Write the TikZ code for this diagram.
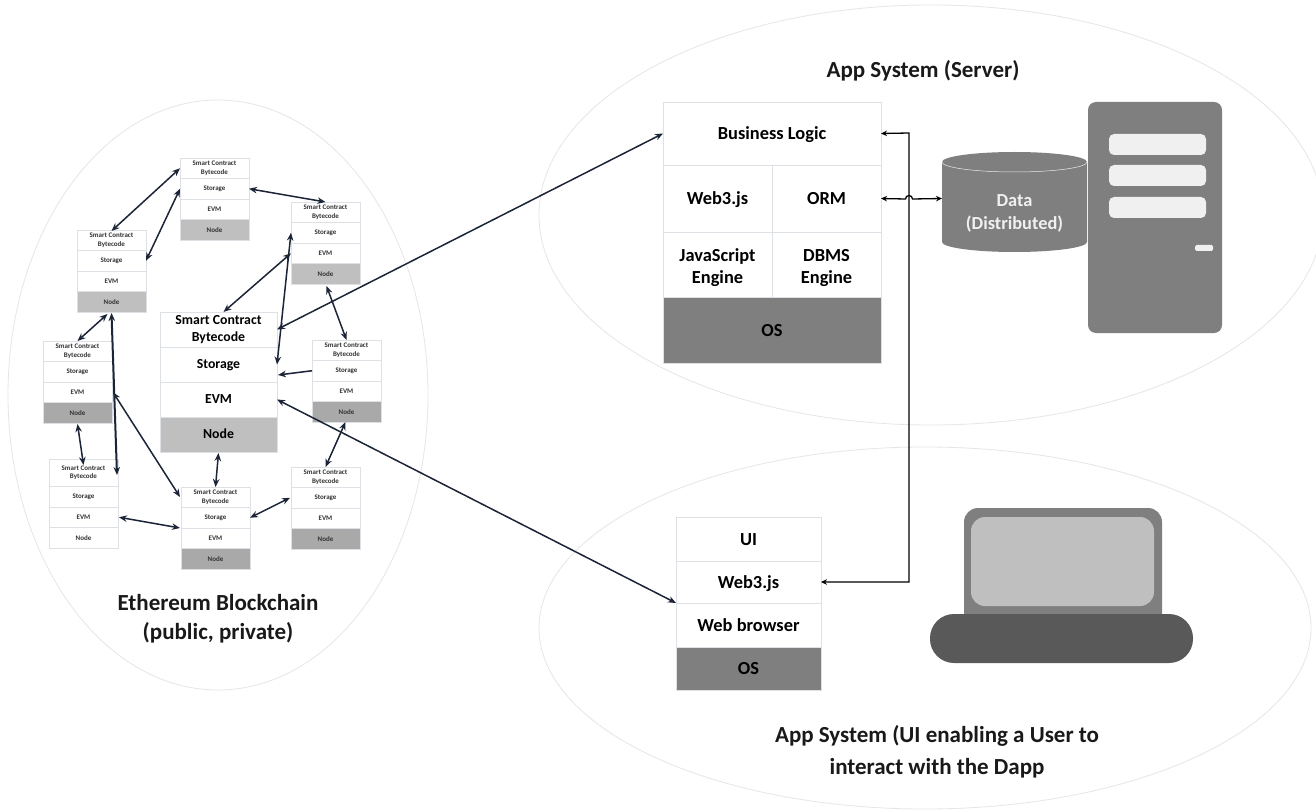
\documentclass[tikz,border=0pt]{standalone}
\usepackage{fontspec}
\setmainfont{Carlito}
\usetikzlibrary{arrows.meta,calc,shapes.geometric}
\definecolor{edgegray}{HTML}{DDE1E6}
\definecolor{ringgray}{HTML}{E6E6E6}
\definecolor{midgray}{HTML}{7F7F7F}
\definecolor{lightnode}{HTML}{BFBFBF}
\definecolor{darknode}{HTML}{A9A9A9}
\definecolor{barcolor}{HTML}{595959}
\definecolor{screengray}{HTML}{BFBFBF}
\definecolor{btngray}{HTML}{F0F0F0}
\definecolor{navy}{HTML}{1C2438}
\tikzset{
  ring/.style={draw=ringgray,line width=.8pt,ellipse,inner sep=0pt,outer sep=0pt},
  cell/.style={draw=edgegray,line width=.7pt,inner sep=0pt,outer sep=0pt,align=center,anchor=north west,text=black},
  tiny/.style={cell,font=\fontsize{7}{8.6}\selectfont\bfseries,text=black!80,minimum width=69pt,minimum height=20.5pt},
  mid/.style={cell,font=\fontsize{13.8}{17}\selectfont\bfseries,minimum width=117pt,minimum height=35pt},
  midline/.style={mid,text height=11pt,text depth=3pt},
  big/.style={cell,font=\fontsize{18.4}{22}\selectfont\bfseries},
  bigline/.style={big,text height=16pt,text depth=4pt},
  title/.style={font=\fontsize{23}{29}\selectfont\bfseries,align=center,text=black!90},
  link/.style={{Stealth[length=8pt,width=6.5pt]}-{Stealth[length=8pt,width=6.5pt]},draw=navy,line width=1.5pt},
  oneway/.style={-{Stealth[length=8pt,width=6.5pt]},draw=navy,line width=1.5pt},
  wire/.style={{Stealth[length=6pt,width=5.5pt]}-{Stealth[length=6pt,width=5.5pt]},draw=black,line width=1.3pt},
}
\newcommand{\tinystack}[5]{%
  \node[tiny,minimum height=#4pt] (#1sc) at (#2,-#3) {Smart Contract\\Bytecode};
  \node[tiny] (#1st) at (#1sc.south west) {Storage};
  \node[tiny] (#1ev) at (#1st.south west) {EVM};
  \node[tiny,fill=#5] (#1no) at (#1ev.south west) {Node};
}
\begin{document}
\begin{tikzpicture}[x=1pt,y=1pt]
\useasboundingbox (0,0) rectangle (1316,-810);
\fill[white] (0,0) rectangle (1316,-810);
% surrounding ellipses
\node[ring,minimum width=420pt,minimum height=590pt] (chain) at (218,-395) {};
\node[ring,minimum width=784pt,minimum height=420pt] (srv) at (931,-215) {};
\node[ring,minimum width=772pt,minimum height=362pt] (cli) at (925,-628) {};
% small stacks
\tinystack{a}{180}{158}{20.5}{lightnode}
\tinystack{b}{291}{202}{20.5}{lightnode}
\tinystack{c}{77}{230}{20.5}{lightnode}
\tinystack{d}{43}{341}{20.5}{darknode}
\tinystack{e}{312}{340}{20.5}{darknode}
\tinystack{f}{49}{459}{27.5}{white}
\tinystack{g}{181}{487}{20.5}{darknode}
\tinystack{h}{291}{467}{20.5}{darknode}
% central stack
\node[mid] (msc) at (160,-312) {Smart Contract\\Bytecode};
\node[midline] (mst) at (msc.south west) {Storage};
\node[midline] (mev) at (mst.south west) {EVM};
\node[midline,fill=lightnode] (mno) at (mev.south west) {Node};
% server stack
\node[bigline,minimum width=218pt,minimum height=63pt] (biz) at (663,-102) {Business Logic};
\node[bigline,minimum width=109pt,minimum height=67pt] (w3s) at (biz.south west) {Web3.js};
\node[bigline,minimum width=109pt,minimum height=67pt] (orm) at (w3s.north east) {ORM};
\node[big,minimum width=109pt,minimum height=65pt] (jse) at (w3s.south west) {\rule{0pt}{19pt}JavaScript\\Engine};
\node[big,minimum width=109pt,minimum height=65pt] (dbe) at (jse.north east) {\rule{0pt}{19pt}DBMS\\Engine};
\node[bigline,fill=midgray,minimum width=218pt,minimum height=66pt] (sos) at (jse.south west) {OS};
% client stack
\node[bigline,minimum width=145pt,minimum height=44pt] (ui) at (676,-517) {UI};
\node[bigline,minimum width=145pt,minimum height=42pt] (w3c) at (ui.south west) {Web3.js};
\node[bigline,minimum width=145pt,minimum height=44pt] (web) at (w3c.south west) {Web browser};
\node[bigline,fill=midgray,minimum width=145pt,minimum height=43pt] (cos) at (web.south west) {OS};
% database
\fill[midgray] (942,-162) arc[start angle=180,end angle=0,x radius=72.5,y radius=10] -- (1087,-242) arc[start angle=0,end angle=-180,x radius=72.5,y radius=10] -- cycle;
\draw[white!85!midgray,line width=.5pt] (942,-162) arc[start angle=180,end angle=360,x radius=72.5,y radius=10];
\node[minimum width=145pt,minimum height=100pt,inner sep=0pt,outer sep=0pt] (data) at (1014.5,-202) {};
\node[font=\fontsize{18.4}{23}\selectfont\bfseries,text=btngray,align=center] (datatext) at (1014.5,-213) {Data\\(Distributed)};
% server icon
\fill[midgray,rounded corners=8pt] (1088,-102) rectangle (1222,-333);
\fill[btngray,rounded corners=5pt] (1109,-134) rectangle (1206,-155);
\fill[btngray,rounded corners=5pt] (1109,-165) rectangle (1206,-186);
\fill[btngray,rounded corners=5pt] (1109,-197) rectangle (1206,-218);
\fill[btngray,rounded corners=1.5pt] (1195,-245) rectangle (1213,-251);
% laptop icon
\fill[midgray,rounded corners=14pt] (964,-508) rectangle (1162,-630);
\fill[screengray,rounded corners=14pt] (971,-517) rectangle (1154,-606);
\fill[barcolor,rounded corners=24pt] (930,-614) rectangle (1193,-663);
% titles
\node[title] (t1) at (923,-71) {App System (Server)};
\node[title] (t2) at (218,-619) {Ethereum Blockchain\\(public, private)};
\node[title,font=\fontsize{23}{32}\selectfont\bfseries] (t3) at (937,-752) {App System (UI enabling a User to\\interact with the Dapp};
% connectors, small stacks
\draw[link] (asc.west) -- ($(csc.north)+(0,-1)$);
\draw[link] (ast.west) -- (cst.east);
\draw[link] (ast.east) -- (bsc.north);
\draw[link] (bev.west) -- ($(msc.north)+(5,0)$);
\draw[link] (bst.west) -- (mst.east);
\draw[link] ($(bno.south)+(1,-2)$) -- (esc.north);
\draw[oneway] (est.west) -- ($(mst.south east)+(1,7)$);
\draw[link] ($(eno.south)+(-1,0)$) -- (hsc.north);
\draw[link] (gst.east) -- ($(hst.west)+(-1,0)$);
\draw[link] ($(mno.south)+(0,-1)$) -- (gsc.north);
\draw[link] ($(dev.east)+(1,0)$) -- ($(gsc.north west)+(-1,-10)$);
\draw[link,line width=2pt] ($(cno.south)+(0,-1)$) -- ($(fsc.north east)+(-1,-16)$);
\draw[link] ($(cno.south)+(-4,-2)$) -- ($(dsc.north)+(0,0)$);
\draw[link] ($(dno.south)+(0,-1)$) -- ($(fsc.north)+(0,-6)$);
\draw[link] ($(fev.east)+(1,0)$) -- ($(gst.south west)+(-1,0)$);
% connectors, long
\draw[link] (msc.east) -- (biz.west);
\draw[link] (mev.east) -- (web.north west);
% connectors, right side
\draw[wire] (biz.east) -- (909,-133) -- (909,-582) -- (w3c.east);
\draw[wire] (orm.east) -- (905.5,-199) arc[start angle=180,end angle=0,radius=3.5] -- (data.west |- orm.east);
\end{tikzpicture}
\end{document}
